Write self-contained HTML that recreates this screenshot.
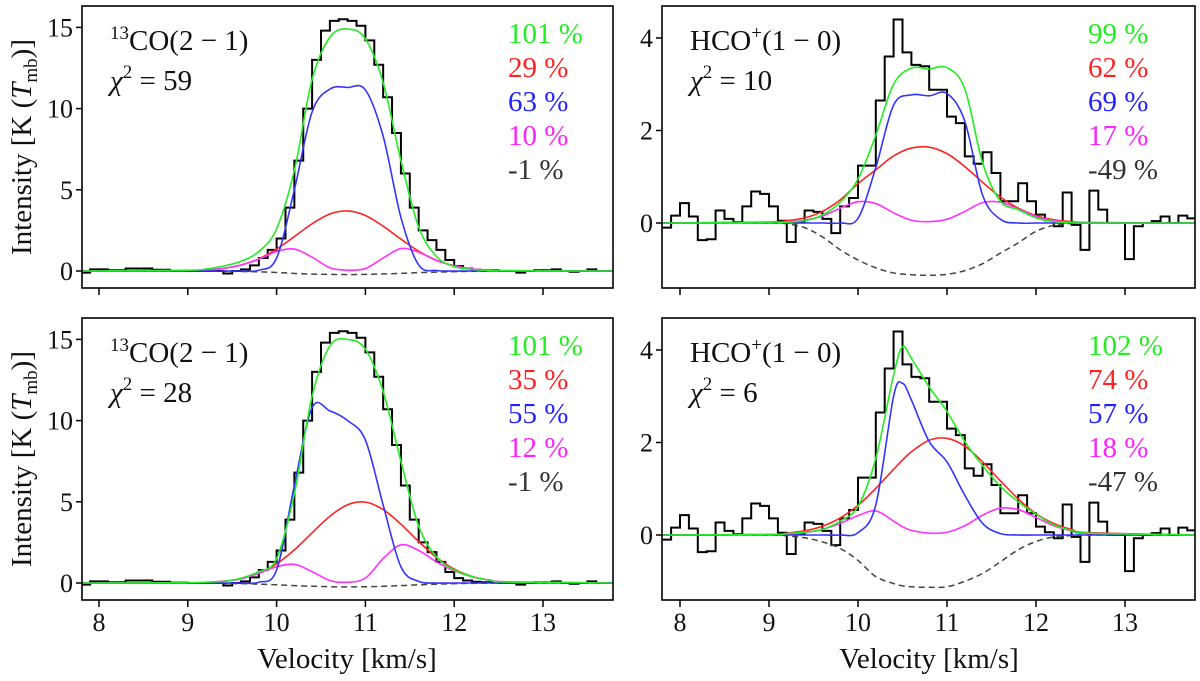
<!DOCTYPE html>
<html><head><meta charset="utf-8"><style>
html,body{margin:0;padding:0;background:#fff;}
svg{display:block;}
svg text{font-family:"Liberation Serif","DejaVu Serif",serif;}
</style></head><body>
<svg id="fig" width="1200" height="681" viewBox="0 0 1200 681" xmlns="http://www.w3.org/2000/svg" font-family="Liberation Serif, serif"></svg>
<script>
// ---- data ----
const binStart = 7.8, binWidth = 0.1;
const coHist = [-0.1,0.1,0.1,0.05,0.05,0.15,0.15,0.15,0.08,0.08,0.02,0.02,0,0,0,0,-0.15,0,0.1,0.35,0.8,1.3,2.0,3.9,6.8,10.0,13.0,14.8,15.4,15.5,15.4,15.1,14.2,12.7,10.7,8.5,6.0,3.9,2.5,1.9,1.3,0.68,0.3,0.15,0.08,0.05,0.05,0,0,-0.1,0,0.05,0.05,0.1,0,-0.05,0,0.1,0,0];
const hcoHist = [-0.1,0.16,0.43,0.14,-0.37,-0.35,0.27,0.09,0.02,0.36,0.68,0.63,0.36,0.05,-0.41,0.02,0.27,0.24,0.09,-0.22,0.36,0.54,1.24,1.24,2.65,3.6,4.4,3.69,3.42,3.39,2.88,2.88,2.3,2.16,1.44,1.28,1.53,1.08,0.47,0.47,0.86,0.47,0.18,0.06,-0.07,0.66,-0.04,-0.58,0.7,0.29,0,0,-0.78,-0.07,0,0.04,0.14,0,0.16,0.1];

const velGrid = [7.8,9.0,9.2,9.4,9.6,9.8,10.0,10.2,10.4,10.6,10.8,11.0,11.2,11.4,11.6,11.8,12.0,12.2,12.4,12.6,13.8];
const velGridBR = [7.8,9.0,9.2,9.4,9.6,9.8,10.0,10.2,10.4,10.5,10.6,10.8,11.0,11.2,11.4,11.6,11.8,12.0,12.2,12.4,12.6,13.8];

const tlGreen = [0,0.05,0.12,0.3,0.6,1.2,2.6,6.2,11.8,14.4,14.9,14.3,11.6,6.8,2.7,0.9,0.27,0.1,0.03,0.01,0];
const tlBlue = [0,0,0,0,0,0.05,0.8,5.0,9.8,11.2,11.3,11.15,8.3,3.3,0.37,0.03,0,0,0,0,0];
const tlRed = [0,0.02,0.06,0.16,0.37,0.75,1.35,2.12,2.91,3.51,3.70,3.42,2.76,1.96,1.22,0.66,0.32,0.13,0.05,0.02,0];
const tlMagenta = [0,0.02,0.06,0.16,0.37,0.72,1.2,1.35,0.85,0.2,0.05,0.15,0.8,1.38,1.15,0.65,0.32,0.13,0.05,0.02,0];
const tlDashed = [0,0,-0.005,-0.01,-0.03,-0.05,-0.09,-0.15,-0.19,-0.21,-0.22,-0.21,-0.18,-0.15,-0.1,-0.07,-0.04,-0.02,-0.01,0,0];

const blGreen = [0,0.02,0.05,0.1,0.3,0.7,1.5,5.5,11.5,14.6,15.0,14.4,11.8,7.5,3.5,1.6,0.8,0.4,0.17,0.06,0];
const blBlue = [0,0,0,0,0,0.05,0.8,6.0,10.8,10.6,10.0,8.8,4.8,1.0,0.1,0,0,0,0,0,0];
const blRed = [0,0.01,0.04,0.11,0.27,0.61,1.18,2.04,3.09,4.11,4.82,4.98,4.52,3.62,2.55,1.58,0.86,0.41,0.18,0.07,0];
const blMagenta = [0,0.01,0.03,0.1,0.25,0.6,1.0,1.15,0.7,0.15,0.05,0.3,1.5,2.35,2.0,1.3,0.75,0.38,0.17,0.06,0];
const blDashed = [0,0,-0.01,-0.02,-0.04,-0.07,-0.11,-0.16,-0.2,-0.23,-0.24,-0.23,-0.2,-0.16,-0.11,-0.07,-0.04,-0.02,-0.01,0,0];

const trGreen = [0,0.01,0.02,0.05,0.17,0.45,0.95,1.9,3.0,3.35,3.33,3.36,2.9,1.3,0.47,0.29,0.11,0.03,0.01,0,0];
const trBlue = [0,0,0,0,0,0,0.1,1.2,2.55,2.77,2.75,2.8,2.2,0.6,0.08,0,0,0,0,0,0];
const trRed = [0,0.02,0.05,0.11,0.25,0.5,0.85,1.15,1.45,1.62,1.64,1.5,1.22,0.88,0.56,0.32,0.16,0.07,0.03,0.01,0];
const trMagenta = [0,0.01,0.02,0.06,0.15,0.32,0.46,0.42,0.22,0.06,0.03,0.08,0.25,0.44,0.45,0.3,0.14,0.05,0.01,0,0];
const trDashed = [0,0,-0.02,-0.1,-0.3,-0.58,-0.8,-0.97,-1.08,-1.12,-1.13,-1.11,-1.03,-0.88,-0.65,-0.43,-0.18,-0.05,-0.01,0,0];

const brGreen = [0,0.01,0.03,0.06,0.12,0.3,0.62,1.66,3.46,4.07,3.82,3.2,2.67,2.02,1.5,1.05,0.72,0.45,0.22,0.1,0.04,0];
const brBlue = [0,0,0,0,0,0,0.05,0.65,3.0,3.28,2.92,2.02,1.58,0.86,0.25,0.03,0,0,0,0,0,0];
const brRed = [0,0.01,0.04,0.09,0.19,0.37,0.64,1.01,1.42,1.62,1.80,2.05,2.09,1.92,1.58,1.17,0.78,0.46,0.25,0.12,0.05,0];
const brMagenta = [0,0.01,0.02,0.05,0.12,0.25,0.42,0.52,0.3,0.18,0.1,0.04,0.06,0.2,0.43,0.58,0.55,0.38,0.2,0.09,0.03,0];
const brDashed = [0,0,-0.02,-0.06,-0.15,-0.29,-0.55,-0.9,-1.05,-1.1,-1.12,-1.13,-1.12,-1.0,-0.83,-0.58,-0.32,-0.14,-0.04,-0.01,0,0];

const xTicks = [8,9,10,11,12,13];
const coYTicks = [0,5,10,15];
const hcoYTicks = [0,2,4];
const tlPct = ["101 %","29 %","63 %","10 %","-1 %"];
const blPct = ["101 %","35 %","55 %","12 %","-1 %"];
const trPct = ["99 %","62 %","69 %","17 %","-49 %"];
const brPct = ["102 %","74 %","57 %","18 %","-47 %"];

// ---- drawing ----
const NS = "http://www.w3.org/2000/svg";
const FONT = "Liberation Serif, DejaVu Serif, serif";
const svg = document.getElementById('fig');
const COLORS = {green:"#22ee22", red:"#ff2222", blue:"#3333ff", magenta:"#ff33ff", dashed:"#444444"};
const pctColors = ["#22ee22","#ff2222","#2222ff","#ff22ff","#333333"];

function mk(tag, attrs, parent){
  const e = document.createElementNS(NS, tag);
  for (const k in attrs) e.setAttribute(k, attrs[k]);
  if (tag === 'text') e.setAttribute('font-family', FONT);
  (parent||svg).appendChild(e);
  return e;
}
function smoothPath(pts){
  let d = "M" + pts[0][0].toFixed(2) + "," + pts[0][1].toFixed(2);
  for (let i=0;i<pts.length-1;i++){
    const p0 = pts[Math.max(0,i-1)], p1 = pts[i], p2 = pts[i+1], p3 = pts[Math.min(pts.length-1,i+2)];
    const c1x = p1[0]+(p2[0]-p0[0])/6, c1y = p1[1]+(p2[1]-p0[1])/6;
    const c2x = p2[0]-(p3[0]-p1[0])/6, c2y = p2[1]-(p3[1]-p1[1])/6;
    d += " C"+c1x.toFixed(2)+","+c1y.toFixed(2)+" "+c2x.toFixed(2)+","+c2y.toFixed(2)+" "+p2[0].toFixed(2)+","+p2[1].toFixed(2);
  }
  return d;
}

function panel(cfg){
  const g = mk('g', {});
  
  
  const X = v => cfg.x8 + (v-8)*cfg.pxPerKms;
  const Y = val => cfg.y0 - val*cfg.pxPerUnit;
  const clipId = cfg.name + "-clip";
  const defs = mk('defs', {}, g);
  const cp = mk('clipPath', {id: clipId}, defs);
  mk('rect', {x: cfg.left, y: cfg.top, width: cfg.right-cfg.left, height: cfg.bottom-cfg.top}, cp);
  const plot = mk('g', {'clip-path': 'url(#'+clipId+')'}, g);

  // histogram
  let d = "";
  cfg.hist.forEach((v,i)=>{
    const x0 = X(binStart + i*binWidth), x1 = X(binStart + (i+1)*binWidth);
    d += (i===0 ? "M"+x0.toFixed(2)+","+Y(v).toFixed(2) : " L"+x0.toFixed(2)+","+Y(v).toFixed(2)) + " L"+x1.toFixed(2)+","+Y(v).toFixed(2);
  });
  const hp = mk('path', {d: d, fill: 'none', stroke: '#000', 'stroke-width': 2}, plot);
  
  

  const series = [['dashed', cfg.dashed], ['red', cfg.red], ['magenta', cfg.magenta], ['blue', cfg.blue], ['green', cfg.green]];
  series.forEach(([key, vals])=>{
    const pts = cfg.vel.map((v,i)=>[X(v), Y(vals[i])]);
    const attrs = {d: smoothPath(pts), fill: 'none', stroke: COLORS[key], 'stroke-width': 1.6};
    if (key==='dashed') { attrs['stroke-dasharray'] = '6,4'; attrs['stroke-width'] = 1.5; }
    const p = mk('path', attrs, plot);
    
    
  });

  // frame
  const fr = mk('rect', {x: cfg.left, y: cfg.top, width: cfg.right-cfg.left, height: cfg.bottom-cfg.top, fill: 'none', stroke: '#000', 'stroke-width': 1.6}, g);
  
  

  xTicks.forEach(t=>{
    const tk = mk('line', {x1: X(t), x2: X(t), y1: cfg.bottom, y2: cfg.bottom+7, stroke: '#000', 'stroke-width': 1.5}, g);
    
    
    if (cfg.xLabels){
      const tl = mk('text', {x: X(t), y: cfg.bottom+31, 'text-anchor': 'middle', 'font-size': 26, fill: '#111'}, g);
      tl.textContent = t;
      
      
    }
  });
  cfg.yTicks.forEach(t=>{
    const tk = mk('line', {x1: cfg.left-6, x2: cfg.left, y1: Y(t), y2: Y(t), stroke: '#000', 'stroke-width': 1.5}, g);
    
    
    const tl = mk('text', {x: cfg.left-9, y: Y(t)+9, 'text-anchor': 'end', 'font-size': 26, fill: '#111'}, g);
    tl.textContent = t;
    
    
  });

  const tt = mk('text', {x: cfg.left+28, y: cfg.top+44, 'font-size': 29, fill: '#111'}, g);
  
  
  if (cfg.kind==='co'){
    const s = mk('tspan', {'font-size': 19, dy: -11}, tt); s.textContent = "13";
    const r = mk('tspan', {dy: 11}, tt); r.textContent = "CO(2 − 1)";
  } else {
    const r = mk('tspan', {}, tt); r.textContent = "HCO";
    const s = mk('tspan', {'font-size': 19, dy: -11}, tt); s.textContent = "+";
    const r2 = mk('tspan', {dy: 11}, tt); r2.textContent = "(1 − 0)";
  }
  const ch = mk('text', {x: cfg.left+28, y: cfg.top+84, 'font-size': 29, fill: '#111'}, g);
  
  
  const c1 = mk('tspan', {'font-style': 'italic'}, ch); c1.textContent = "χ";
  const c2 = mk('tspan', {'font-size': 19, dy: -12}, ch); c2.textContent = "2";
  const c3 = mk('tspan', {dy: 12}, ch); c3.textContent = " = " + cfg.chi;

  cfg.pct.forEach((s,i)=>{
    const t = mk('text', {x: cfg.pctX, y: cfg.top+37+i*34, 'font-size': 29, fill: pctColors[i]}, g);
    t.textContent = s;
    
    
  });
}

const co = {x8: 99, pxPerKms: 88.8, pxPerUnit: 16.24, left: 82, right: 613, kind: 'co', yTicks: coYTicks, pctX: 508, hist: coHist};
const hco = {x8: 680, pxPerKms: 89, pxPerUnit: 46.25, left: 662, right: 1195, kind: 'hco', yTicks: hcoYTicks, pctX: 1088, hist: hcoHist};

panel(Object.assign({}, co, {name:'panel-co-top', top:6, bottom:288, y0:271, xLabels:false, vel: velGrid, green: tlGreen, blue: tlBlue, red: tlRed, magenta: tlMagenta, dashed: tlDashed, chi: 59, pct: tlPct}));
panel(Object.assign({}, co, {name:'panel-co-bottom', top:318, bottom:600, y0:583, xLabels:true, vel: velGrid, green: blGreen, blue: blBlue, red: blRed, magenta: blMagenta, dashed: blDashed, chi: 28, pct: blPct}));
panel(Object.assign({}, hco, {name:'panel-hco-top', top:6, bottom:288, y0:223, xLabels:false, vel: velGrid, green: trGreen, blue: trBlue, red: trRed, magenta: trMagenta, dashed: trDashed, chi: 10, pct: trPct}));
panel(Object.assign({}, hco, {name:'panel-hco-bottom', top:318, bottom:600, y0:535, xLabels:true, vel: velGridBR, green: brGreen, blue: brBlue, red: brRed, magenta: brMagenta, dashed: brDashed, chi: 6, pct: brPct}));

[147, 459].forEach(cy=>{
  const t = mk('text', {x: 0, y: 0, transform: 'translate(31,'+cy+') rotate(-90)', 'text-anchor': 'middle', 'font-size': 29, fill: '#111'});
  
  
  const a = mk('tspan', {}, t); a.textContent = "Intensity [K (";
  const b = mk('tspan', {'font-style': 'italic'}, t); b.textContent = "T";
  const c = mk('tspan', {'font-size': 19, dy: 6}, t); c.textContent = "mb";
  const e = mk('tspan', {dy: -6}, t); e.textContent = ")]";
});
[347, 929].forEach(cx=>{
  const t = mk('text', {x: cx, y: 668, 'text-anchor': 'middle', 'font-size': 29, fill: '#111'});
  t.textContent = "Velocity [km/s]";
  
  
});
</script>
</body></html>
